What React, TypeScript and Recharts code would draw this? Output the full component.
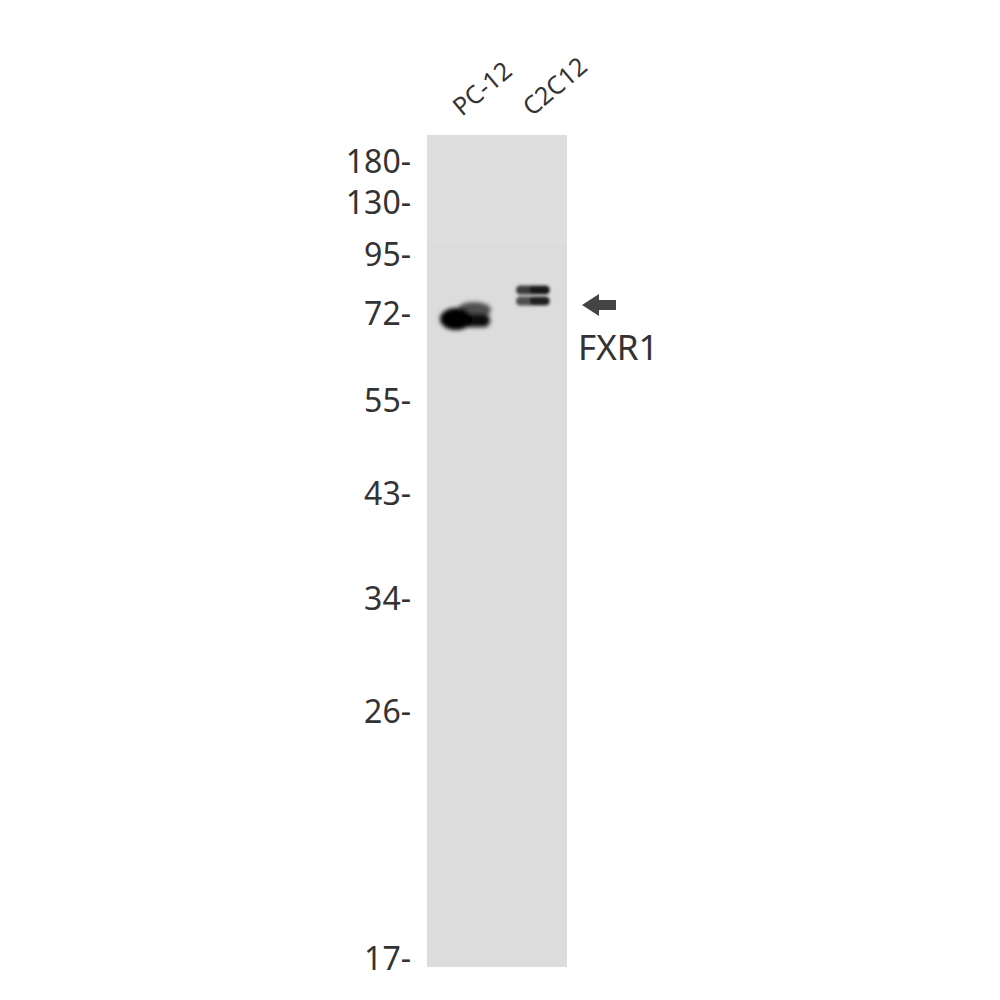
import {
  CartesianGrid,
  ComposedChart,
  ReferenceArea,
  Scatter,
  XAxis,
  YAxis,
} from "recharts";

// lanes loaded on the gel
const lanes = ["PC-12", "C2C12"];

// molecular weight ladder (kDa) and migration distance from gel top (mm)
const markerKda = [180, 130, 95, 72, 55, 43, 34, 26, 17];
const markerMigration = [2.5, 6.6, 11.8, 17.7, 26.4, 35.7, 46.2, 57.5, 82.2];

// detected bands: lane, migration (mm), relative intensity
const bandLane = ["PC-12", "C2C12", "C2C12"];
const bandMigration = [18.3, 15.5, 16.6];
const bandIntensity = [1.0, 0.9, 0.8];

// target annotation
const targetName = "FXR1";
const targetLane = "C2C12";
const targetMigration = 17.0;

const GEL_LENGTH = 83.2;
const FONT = "'Noto Sans', 'Open Sans', sans-serif";
const INK = "#333333";

const bands = bandLane.map((lane, i) => ({
  lane,
  migration: bandMigration[i],
  intensity: bandIntensity[i],
}));

const target = [{ lane: targetLane, migration: targetMigration, name: targetName }];

const laneRows = lanes.map((lane) => ({ lane }));

function BandShape(props: any) {
  const { cx, cy, payload } = props;
  if (cx == null || cy == null) return null;
  const id = `blur-${payload.lane}-${String(payload.migration).replace(".", "-")}`;
  if (payload.lane === "PC-12") {
    return (
      <g>
        <defs>
          <filter id={id} x="-50%" y="-50%" width="200%" height="200%">
            <feGaussianBlur stdDeviation="2" />
          </filter>
        </defs>
        <g filter={`url(#${id})`}>
          <ellipse cx={cx + 12} cy={cy - 8} rx={17} ry={8} fill="#404040" opacity={0.9} />
          <rect x={cx - 20} y={cy - 4} width={48} height={13} rx={6} fill="#0e0e0e" />
          <ellipse cx={cx - 6} cy={cy + 1} rx={16} ry={11} fill="#000" />
        </g>
      </g>
    );
  }
  return (
    <g>
      <defs>
        <filter id={id} x="-50%" y="-100%" width="200%" height="300%">
          <feGaussianBlur stdDeviation="1.7" />
        </filter>
      </defs>
      <g filter={`url(#${id})`}>
        <rect x={cx - 16} y={cy - 4.5} width={34} height={9} rx={4.5} fill="#2a2a2a" opacity={payload.intensity} />
        <rect x={cx - 2} y={cy - 4} width={19} height={8} rx={4} fill="#111" opacity={payload.intensity} />
      </g>
    </g>
  );
}

function TargetShape(props: any) {
  const { cx, cy, payload } = props;
  if (cx == null || cy == null) return null;
  const x = cx + 50;
  const y = cy;
  return (
    <g>
      <path
        d={`M ${x} ${y} L ${x + 17} ${y - 11} L ${x + 17} ${y - 5} L ${x + 34} ${y - 5} L ${x + 34} ${y + 5} L ${x + 17} ${y + 5} L ${x + 17} ${y + 11} Z`}
        fill="#444"
      />
      <text x={x - 4} y={y + 55} fontFamily={FONT} fontSize={35} fill={INK}>
        {payload.name}
      </text>
    </g>
  );
}

function MarkerTick(props: any) {
  const { x, y, payload } = props;
  const idx = markerMigration.indexOf(payload.value);
  return (
    <text
      x={x}
      y={y}
      textAnchor="end"
      dominantBaseline="central"
      fontFamily={FONT}
      fontSize={32}
      fill={INK}
    >
      {`${markerKda[idx]}-`}
    </text>
  );
}

function LaneTick(props: any) {
  const { x, y, payload } = props;
  return (
    <text
      x={x}
      y={y}
      transform={`rotate(-40, ${x}, ${y})`}
      textAnchor="start"
      fontFamily={FONT}
      fontSize={25}
      fill={INK}
    >
      {payload.value}
    </text>
  );
}

export default function App() {
  return (
    <div
      style={{
        position: "absolute",
        left: 0,
        top: 0,
        width: 1000,
        height: 1000,
        background: "#fff",
      }}
    >
      <ComposedChart
        width={1000}
        height={1000}
        data={laneRows}
        margin={{ top: 35, right: 433, bottom: 33, left: 347 }}
      >
        <CartesianGrid horizontal={false} vertical={false} fill="#dcdcdc" />
        <XAxis xAxisId="gel" type="number" domain={[0, 1]} hide />
        <ReferenceArea
          xAxisId="gel"
          x1={0}
          x2={1}
          y1={0}
          y2={11}
          fill="#dedede"
          fillOpacity={1}
          stroke="none"
          ifOverflow="hidden"
        />
        <XAxis
          dataKey="lane"
          type="category"
          allowDuplicatedCategory={false}
          orientation="top"
          height={100}
          padding={{ left: 35, right: 35 }}
          axisLine={false}
          tickLine={false}
          tickSize={0}
          tickMargin={18}
          interval={0}
          tick={<LaneTick />}
        />
        <YAxis
          type="number"
          dataKey="migration"
          domain={[0, GEL_LENGTH]}
          reversed
          ticks={markerMigration}
          interval={0}
          width={80}
          axisLine={false}
          tickLine={false}
          tickSize={0}
          tickMargin={16}
          tick={<MarkerTick />}
        />
        <Scatter
          data={bands}
          dataKey="migration"
          shape={<BandShape />}
          isAnimationActive={false}
        />
        <Scatter
          data={target}
          dataKey="migration"
          shape={<TargetShape />}
          isAnimationActive={false}
        />
      </ComposedChart>
    </div>
  );
}
